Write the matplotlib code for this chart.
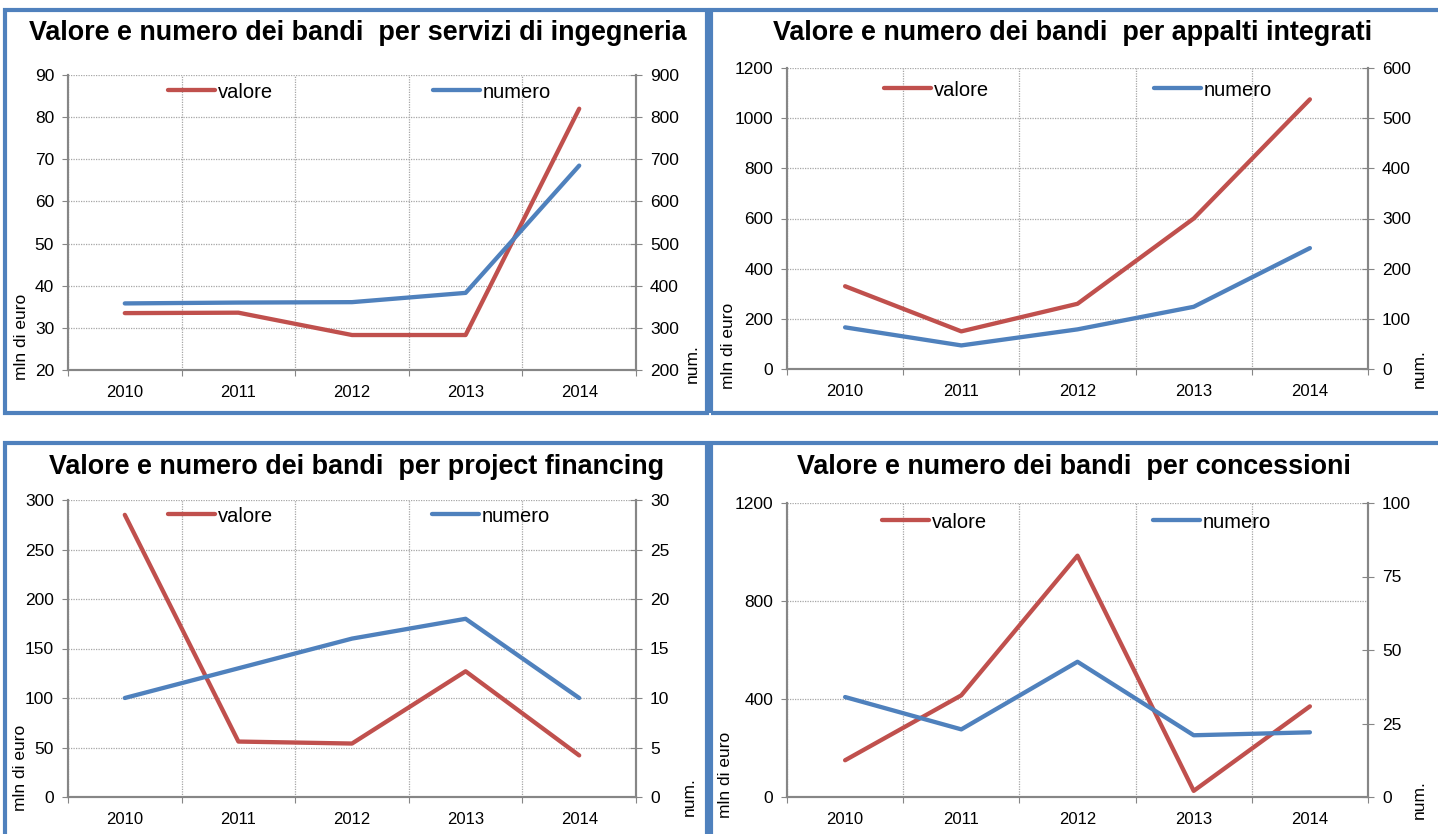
import matplotlib
matplotlib.use("Agg")
import matplotlib.pyplot as plt
from matplotlib.patches import Rectangle
from matplotlib.lines import Line2D

plt.rcParams['font.family'] = ['Liberation Sans', 'DejaVu Sans']

years = ["2010", "2011", "2012", "2013", "2014"]

titles = [
    "Valore e numero dei bandi  per servizi di ingegneria",
    "Valore e numero dei bandi  per appalti integrati",
    "Valore e numero dei bandi  per project financing",
    "Valore e numero dei bandi  per concessioni",
]

valore_ingegneria = [33.5, 33.6, 28.3, 28.3, 82.0]
numero_ingegneria = [358, 360, 361, 383, 685]

valore_appalti = [330, 150, 260, 600, 1075]
numero_appalti = [83, 47, 79, 124, 241]

valore_pf = [285, 56, 54, 127, 42]
numero_pf = [10, 13, 16, 18, 10]

valore_conc = [150, 415, 985, 25, 370]
numero_conc = [34, 23, 46, 21, 22]

left_ticks = [
    [20, 30, 40, 50, 60, 70, 80, 90],
    [0, 200, 400, 600, 800, 1000, 1200],
    [0, 50, 100, 150, 200, 250, 300],
    [0, 400, 800, 1200],
]
right_ticks = [
    [200, 300, 400, 500, 600, 700, 800, 900],
    [0, 100, 200, 300, 400, 500, 600],
    [0, 5, 10, 15, 20, 25, 30],
    [0, 25, 50, 75, 100],
]

valori = [valore_ingegneria, valore_appalti, valore_pf, valore_conc]
numeri = [numero_ingegneria, numero_appalti, numero_pf, numero_conc]

RED = "#C0504D"
BLUE = "#4F81BD"
GRAY = "#868686"

W, H = 1438, 834
fig = plt.figure(figsize=(W / 100, H / 100), dpi=100)

# axes rectangles in pixels: left, top, right, bottom
rects = [
    (68, 75, 636, 370),
    (787, 68, 1368, 369),
    (68, 500, 636, 797),
    (787, 503, 1368, 797),
]
# panel borders in pixels: x0, y0, x1, y1
borders = [
    (5, 10, 707, 413),
    (711, 10, 1445, 413),
    (5, 443, 707, 845),
    (711, 443, 1445, 845),
]
title_pos = [(358, 33), (1073, 33), (357, 467), (1074, 467)]
ylab_pos = [(22, 380), (729, 389), (21, 811), (726, 818)]
num_pos = [(692, 383), (1419, 388), (689, 816), (1419, 819)]
leg_red = [(168, 92), (884, 90), (168, 516), (882, 522)]
leg_blue = [(433, 92), (1154, 90), (432, 516), (1153, 522)]


def fx(px):
    return px / W


def fy(py):
    return 1 - py / H


for b in borders:
    x0, y0, x1, y1 = b
    fig.patches.append(Rectangle((fx(x0), fy(y1)), (x1 - x0) / W, (y1 - y0) / H,
                                 transform=fig.transFigure, fill=False,
                                 edgecolor=BLUE, linewidth=3, zorder=0))

for i in range(4):
    l, t, r, b = rects[i]
    ax = fig.add_axes([fx(l), fy(b), (r - l) / W, (b - t) / H])
    ax2 = ax.twinx()
    x = list(range(len(years)))
    lt = left_ticks[i]
    rt = right_ticks[i]
    ax.set_ylim(lt[0], lt[-1])
    ax2.set_ylim(rt[0], rt[-1])
    ax.set_xlim(-0.5, len(years) - 0.5)

    ax.plot(x, valori[i], color=RED, lw=3.1, solid_capstyle='round', zorder=3)
    ax2.plot(x, numeri[i], color=BLUE, lw=3.1, solid_capstyle='round', zorder=3)

    ax.set_yticks(lt)
    ax2.set_yticks(rt)
    ax.set_xticks([k - 0.5 for k in range(len(years) + 1)])
    ax.set_xticklabels([])
    ax.set_xticks(x, minor=True)
    ax.set_xticklabels(years, minor=True)
    ax.tick_params(axis='x', which='minor', length=0, labelsize=12, pad=11)
    ax.tick_params(axis='x', which='major', length=4, color=GRAY, direction='out')
    ax.tick_params(axis='y', length=4, color=GRAY, labelsize=12.5, direction='out', pad=6)
    ax2.tick_params(axis='y', length=8, color=GRAY, labelsize=12.5, direction='inout', pad=6)

    ax.grid(True, which='major', axis='both', color='#A6A6A6', linestyle=(0, (1, 1)), linewidth=0.9)
    ax.spines['top'].set_visible(False)
    ax2.spines['top'].set_visible(False)
    for sp in ['left', 'bottom', 'right']:
        for a in (ax, ax2):
            a.spines[sp].set_color(GRAY)
            a.spines[sp].set_linewidth(1.5)

    px, py = ylab_pos[i]
    fig.text(fx(px), fy(py), "mln di euro", rotation=90, ha='center', va='bottom', fontsize=12.5)
    px, py = num_pos[i]
    fig.text(fx(px), fy(py), "num.", rotation=90, ha='center', va='bottom', fontsize=12.5)

    for pos, col, lab in ((leg_red[i], RED, "valore"), (leg_blue[i], BLUE, "numero")):
        h = Line2D([], [], color=col, lw=3.1, solid_capstyle='round')
        fig.legend([h], [lab], loc='center left', bbox_to_anchor=(fx(pos[0]), fy(pos[1])),
                   frameon=False, fontsize=14.5, handlelength=2.35, handletextpad=0.12,
                   borderpad=0, borderaxespad=0)

    tx, ty = title_pos[i]
    fig.text(fx(tx), fy(ty), titles[i], ha='center', va='center',
             fontsize=19.4, fontweight='bold')

fig.savefig("out.png", dpi=100)
